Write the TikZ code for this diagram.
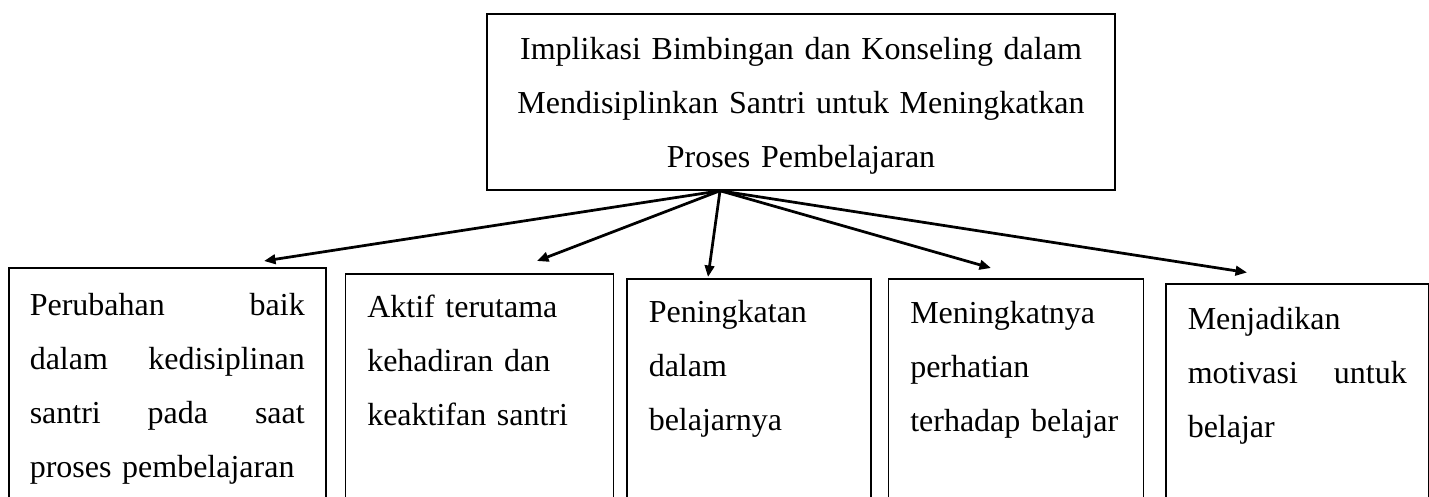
\documentclass[tikz,border=0pt]{standalone}
\usepackage{fontspec}
\setmainfont{Liberation Serif}
\usetikzlibrary{positioning,arrows.meta}

\begin{document}
\begin{tikzpicture}[
  boxfont/.style={font=\fontsize{12.8pt}{21.6pt}\selectfont},
  topbox/.style={draw, rectangle, line width=0.6pt, boxfont, align=center, text width=251.2pt, inner xsep=0pt, inner ysep=0pt, text height=18pt, text depth=52.4pt},
  lowbox/.style={draw, rectangle, line width=0.6pt, boxfont, align=left, inner xsep=8.8pt, inner ysep=0pt, text height=18pt, text depth=80pt, anchor=north west},
  arrowline/.style={line width=1.1pt, -{Triangle[length=4.6pt, width=3.8pt]}}
]
\useasboundingbox (0,0) rectangle (571.6pt,-198.4pt);

\node (implikasi)[topbox] at (320.4pt,-40.8pt) {Implikasi Bimbingan dan Konseling dalam\\ Mendisiplinkan Santri untuk Meningkatkan\\ Proses Pembelajaran};

% lower row, left to right
\node (perubahan)[lowbox, text width=110pt, inner xsep=8.4pt, text height=19.2pt] at (3.2pt,-106.8pt) {Perubahan\hfill baik\\ dalam\hfill kedisiplinan\\ santri\hfill pada\hfill saat\\ proses pembelajaran};
\node (aktif)[lowbox, text width=89.6pt, right=7.2pt of perubahan.north east, anchor=north west, yshift=-2.4pt, text height=17.6pt] {Aktif terutama\\ kehadiran dan\\ keaktifan santri};
\node (peningkatan)[lowbox, text width=80pt, right=4.8pt of aktif.north east, anchor=north west, yshift=-2pt, text height=17.6pt] {Peningkatan\\ dalam\\ belajarnya};
\node (perhatian)[lowbox, text width=84.4pt, right=6.4pt of peningkatan.north east, anchor=north west] {Meningkatnya\\ perhatian\\ terhadap belajar};
\node (motivasi)[lowbox, text width=87.6pt, right=8.4pt of perhatian.north east, anchor=north west, yshift=-2pt, text height=18.4pt] {Menjadikan\\ motivasi\hfill untuk\\ belajar};

% arrows fan out from one point under the top box
\coordinate (hub) at ([xshift=-32.4pt]implikasi.south);
\coordinate (tipperubahan) at (105.6pt,-104.4pt);
\coordinate (tipaktif) at (214.8pt,-104.4pt);
\coordinate (tippeningkatan) at (283.2pt,-110.8pt);
\coordinate (tipperhatian) at (396.4pt,-107.2pt);
\coordinate (tipmotivasi) at (498.8pt,-109pt);
\draw [arrowline] (hub) -- (tipperubahan);
\draw [arrowline] (hub) -- (tipaktif);
\draw [arrowline] (hub) -- (tippeningkatan);
\draw [arrowline] (hub) -- (tipperhatian);
\draw [arrowline] (hub) -- (tipmotivasi);
\end{tikzpicture}
\end{document}
